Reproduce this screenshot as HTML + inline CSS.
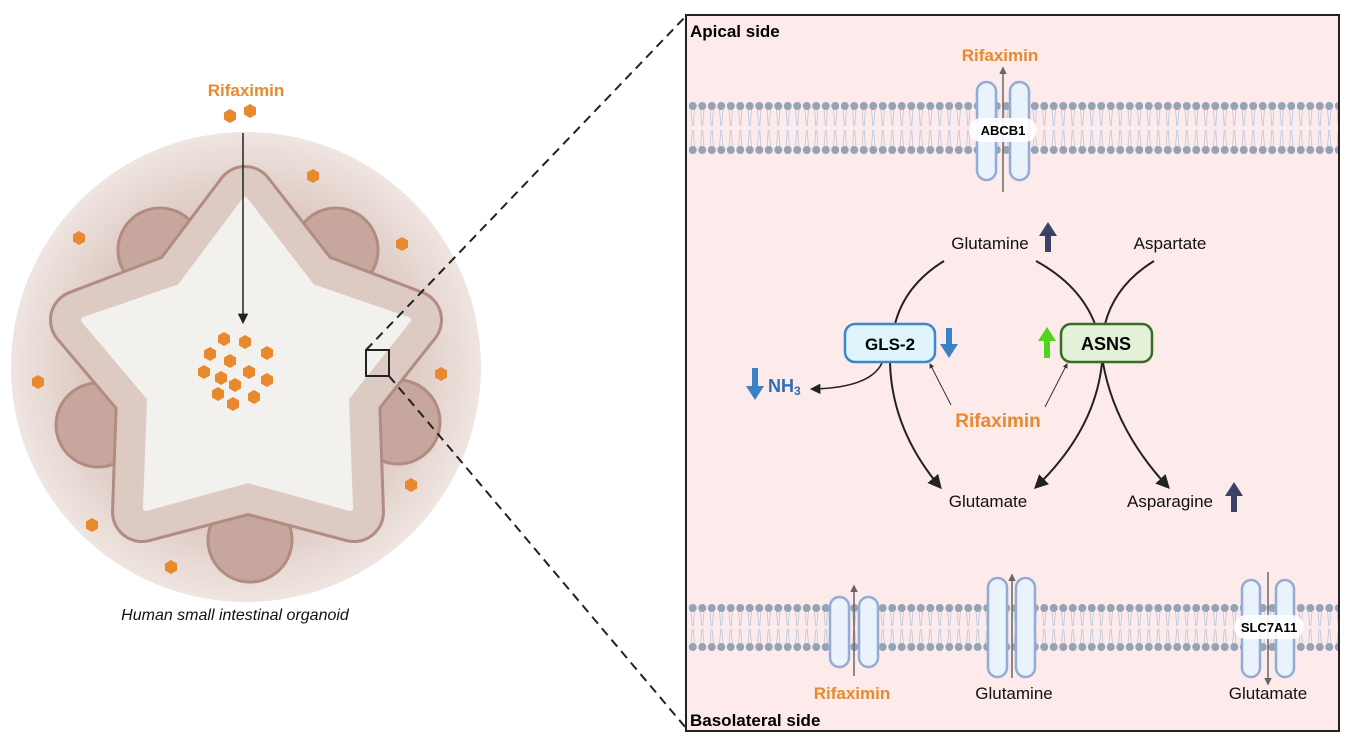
<!DOCTYPE html>
<html><head><meta charset="utf-8"><style>
body{margin:0;background:#fff;}
svg{display:block;font-family:"Liberation Sans",sans-serif;}
</style></head><body>
<svg width="1350" height="744" viewBox="0 0 1350 744" xmlns="http://www.w3.org/2000/svg">
<defs>
<radialGradient id="bg" cx="50%" cy="50%" r="50%">
<stop offset="0.5" stop-color="#d3b9b0"/><stop offset="1" stop-color="#efe5e1"/>
</radialGradient>
<pattern id="memT" x="688" y="100" width="9.5" height="56" patternUnits="userSpaceOnUse">
<path d="M3 9 L4.3 26 M6.5 9 L5.2 26 M3 47 L4.3 30 M6.5 47 L5.2 30" stroke="#b8c6df" stroke-width="0.8" fill="none"/>
<circle cx="4.75" cy="6" r="4" fill="#95a3b5"/>
<circle cx="4.75" cy="50" r="4" fill="#95a3b5"/>
</pattern>
<pattern id="memB" x="688" y="602" width="9.5" height="51" patternUnits="userSpaceOnUse">
<path d="M3 9 L4.3 24 M6.5 9 L5.2 24 M3 42 L4.3 27 M6.5 42 L5.2 27" stroke="#b8c6df" stroke-width="0.8" fill="none"/>
<circle cx="4.75" cy="6" r="4" fill="#95a3b5"/>
<circle cx="4.75" cy="45" r="4" fill="#95a3b5"/>
</pattern>
<marker id="ah" viewBox="0 0 10 10" refX="8" refY="5" markerWidth="7" markerHeight="7" orient="auto-start-reverse"><path d="M0 0 L10 5 L0 10 z" fill="#222"/></marker>
<marker id="ahs" viewBox="0 0 10 10" refX="8" refY="5" markerWidth="5" markerHeight="5" orient="auto"><path d="M0 0 L10 5 L0 10 z" fill="#333"/></marker>
<marker id="ahg" viewBox="0 0 10 10" refX="8" refY="5" markerWidth="5" markerHeight="5" orient="auto"><path d="M0 0 L10 5 L0 10 z" fill="#666"/></marker>
</defs>

<!-- organoid -->
<circle cx="246" cy="367" r="235" fill="url(#bg)"/>
<g fill="#c7a69d" stroke="#b28c82" stroke-width="3">
<circle cx="160" cy="250" r="42"/><circle cx="336" cy="250" r="42"/>
<circle cx="98" cy="425" r="42"/><circle cx="398" cy="422" r="42"/>
<circle cx="250" cy="540" r="42"/>
</g>
<polygon points="245,196 312,282 412,320 350,398 354,512 248,484 142,512 146,398 80,320 180,282" fill="#dccac3" stroke="#b28c82" stroke-width="62" stroke-linejoin="round"/>
<polygon points="245,196 312,282 412,320 350,398 354,512 248,484 142,512 146,398 80,320 180,282" fill="#dccac3" stroke="#dccac3" stroke-width="56" stroke-linejoin="round"/>
<polygon points="245,200 312,287 408,320 346,398 350,508 248,480 146,508 150,398 84,320 180,287" fill="#f3f1ee" stroke="#f3f1ee" stroke-width="6" stroke-linejoin="round"/>
<line x1="243" y1="133" x2="243" y2="322" stroke="#222" stroke-width="1.5" marker-end="url(#ah)"/>
<text x="246" y="96" text-anchor="middle" font-size="17" font-weight="bold" fill="#e8892e">Rifaximin</text>
<g fill="#e8892e">
<polygon transform="translate(230,116)" points="6,-3.5 6,3.5 0,7 -6,3.5 -6,-3.5 0,-7"/>
<polygon transform="translate(250,111)" points="6,-3.5 6,3.5 0,7 -6,3.5 -6,-3.5 0,-7"/>
<polygon transform="translate(313,176)" points="6,-3.5 6,3.5 0,7 -6,3.5 -6,-3.5 0,-7"/>
<polygon transform="translate(79,238)" points="6,-3.5 6,3.5 0,7 -6,3.5 -6,-3.5 0,-7"/>
<polygon transform="translate(402,244)" points="6,-3.5 6,3.5 0,7 -6,3.5 -6,-3.5 0,-7"/>
<polygon transform="translate(38,382)" points="6,-3.5 6,3.5 0,7 -6,3.5 -6,-3.5 0,-7"/>
<polygon transform="translate(441,374)" points="6,-3.5 6,3.5 0,7 -6,3.5 -6,-3.5 0,-7"/>
<polygon transform="translate(411,485)" points="6,-3.5 6,3.5 0,7 -6,3.5 -6,-3.5 0,-7"/>
<polygon transform="translate(92,525)" points="6,-3.5 6,3.5 0,7 -6,3.5 -6,-3.5 0,-7"/>
<polygon transform="translate(171,567)" points="6,-3.5 6,3.5 0,7 -6,3.5 -6,-3.5 0,-7"/>
<polygon transform="translate(224,339)" points="6,-3.5 6,3.5 0,7 -6,3.5 -6,-3.5 0,-7"/>
<polygon transform="translate(245,342)" points="6,-3.5 6,3.5 0,7 -6,3.5 -6,-3.5 0,-7"/>
<polygon transform="translate(210,354)" points="6,-3.5 6,3.5 0,7 -6,3.5 -6,-3.5 0,-7"/>
<polygon transform="translate(267,353)" points="6,-3.5 6,3.5 0,7 -6,3.5 -6,-3.5 0,-7"/>
<polygon transform="translate(230,361)" points="6,-3.5 6,3.5 0,7 -6,3.5 -6,-3.5 0,-7"/>
<polygon transform="translate(204,372)" points="6,-3.5 6,3.5 0,7 -6,3.5 -6,-3.5 0,-7"/>
<polygon transform="translate(221,378)" points="6,-3.5 6,3.5 0,7 -6,3.5 -6,-3.5 0,-7"/>
<polygon transform="translate(249,372)" points="6,-3.5 6,3.5 0,7 -6,3.5 -6,-3.5 0,-7"/>
<polygon transform="translate(267,380)" points="6,-3.5 6,3.5 0,7 -6,3.5 -6,-3.5 0,-7"/>
<polygon transform="translate(235,385)" points="6,-3.5 6,3.5 0,7 -6,3.5 -6,-3.5 0,-7"/>
<polygon transform="translate(218,394)" points="6,-3.5 6,3.5 0,7 -6,3.5 -6,-3.5 0,-7"/>
<polygon transform="translate(254,397)" points="6,-3.5 6,3.5 0,7 -6,3.5 -6,-3.5 0,-7"/>
<polygon transform="translate(233,404)" points="6,-3.5 6,3.5 0,7 -6,3.5 -6,-3.5 0,-7"/>
</g>
<rect x="366" y="350" width="23" height="26" fill="none" stroke="#222" stroke-width="2"/>
<line x1="366" y1="350" x2="686" y2="16" stroke="#222" stroke-width="2" stroke-dasharray="9,6"/>
<line x1="389" y1="376" x2="686" y2="728" stroke="#222" stroke-width="2" stroke-dasharray="9,6"/>
<text x="235" y="620" text-anchor="middle" font-size="16" font-style="italic" fill="#111">Human small intestinal organoid</text>

<!-- panel -->
<rect x="686" y="15" width="653" height="716" fill="#fcebea" stroke="#222" stroke-width="2"/>
<text x="690" y="37" font-size="17" font-weight="bold" fill="#000">Apical side</text>
<text x="690" y="726" font-size="17" font-weight="bold" fill="#000">Basolateral side</text>
<rect x="688" y="100" width="650" height="56" fill="url(#memT)"/>
<rect x="688" y="602" width="650" height="51" fill="url(#memB)"/>

<!-- ABCB1 -->
<g fill="#eaf2fb" stroke="#93acd6" stroke-width="2.5">
<rect x="977" y="82" width="19" height="98" rx="9.5"/><rect x="1010" y="82" width="19" height="98" rx="9.5"/>
</g>
<line x1="1003" y1="192" x2="1003" y2="68" stroke="#666" stroke-width="1.5" marker-end="url(#ahg)"/>
<rect x="969" y="118" width="68" height="24" rx="12" fill="#fff" opacity="0.9"/>
<text x="1003" y="135" text-anchor="middle" font-size="13" font-weight="bold" fill="#000">ABCB1</text>
<text x="1000" y="61" text-anchor="middle" font-size="17" font-weight="bold" fill="#e8892e">Rifaximin</text>

<!-- bottom channels -->
<g fill="#eaf2fb" stroke="#93acd6" stroke-width="2.5">
<rect x="830" y="597" width="19" height="70" rx="9.5"/><rect x="859" y="597" width="19" height="70" rx="9.5"/>
<rect x="988" y="578" width="19" height="99" rx="9.5"/><rect x="1016" y="578" width="19" height="99" rx="9.5"/>
<rect x="1242" y="580" width="18" height="97" rx="9"/><rect x="1276" y="580" width="18" height="97" rx="9"/>
</g>
<line x1="854" y1="676" x2="854" y2="586" stroke="#666" stroke-width="1.5" marker-end="url(#ahg)"/>
<line x1="1012" y1="678" x2="1012" y2="575" stroke="#666" stroke-width="1.5" marker-end="url(#ahg)"/>
<line x1="1268" y1="572" x2="1268" y2="684" stroke="#666" stroke-width="1.5" marker-end="url(#ahg)"/>
<rect x="1234" y="615" width="70" height="24" rx="12" fill="#fff" opacity="0.9"/>
<text x="1269" y="632" text-anchor="middle" font-size="13" font-weight="bold" fill="#000">SLC7A11</text>
<text x="852" y="699" text-anchor="middle" font-size="17" font-weight="bold" fill="#e8892e">Rifaximin</text>
<text x="1014" y="699" text-anchor="middle" font-size="17" fill="#111">Glutamine</text>
<text x="1268" y="699" text-anchor="middle" font-size="17" fill="#111">Glutamate</text>

<!-- pathway -->
<text x="990" y="249" text-anchor="middle" font-size="17" fill="#111">Glutamine</text>
<text x="1170" y="249" text-anchor="middle" font-size="17" fill="#111">Aspartate</text>
<text x="988" y="507" text-anchor="middle" font-size="17" fill="#111">Glutamate</text>
<text x="1170" y="507" text-anchor="middle" font-size="17" fill="#111">Asparagine</text>
<g fill="#3b4266">
<path d="M1048 222 L1057 236 L1051 236 L1051 252 L1045 252 L1045 236 L1039 236 z"/>
<path d="M1234 482 L1243 496 L1237 496 L1237 512 L1231 512 L1231 496 L1225 496 z"/>
</g>
<path d="M949 358 L958 344 L952 344 L952 328 L946 328 L946 344 L940 344 z" fill="#3a82c8"/>
<path d="M755 400 L764 386 L758 386 L758 368 L752 368 L752 386 L746 386 z" fill="#3a82c8"/>
<path d="M1047 327 L1056 341 L1050 341 L1050 358 L1044 358 L1044 341 L1038 341 z" fill="#4fd61c"/>
<text x="768" y="392" font-size="18" font-weight="bold" fill="#2e6fb4">NH<tspan font-size="12" dy="3">3</tspan></text>

<g fill="none" stroke="#222" stroke-width="2">
<path d="M944 261 Q905 285 895 324"/>
<path d="M1036 261 Q1080 285 1095 324"/>
<path d="M1154 261 Q1115 285 1105 324"/>
<path d="M890 363 Q892 430 940 487" marker-end="url(#ah)"/>
<path d="M1102 363 Q1095 430 1036 487" marker-end="url(#ah)"/>
<path d="M1103 363 Q1115 430 1168 487" marker-end="url(#ah)"/>
<path d="M882 363 Q870 388 812 389" stroke-width="1.5" marker-end="url(#ah)"/>
</g>
<g stroke="#333" stroke-width="1" fill="none">
<line x1="951" y1="405" x2="930" y2="364" marker-end="url(#ahs)"/>
<line x1="1045" y1="407" x2="1067" y2="364" marker-end="url(#ahs)"/>
</g>
<rect x="845" y="324" width="90" height="38" rx="10" fill="#dff5fb" stroke="#3a88c8" stroke-width="2.5"/>
<text x="890" y="350" text-anchor="middle" font-size="17" font-weight="bold" fill="#000">GLS-2</text>
<rect x="1061" y="324" width="91" height="38" rx="10" fill="#e2f1d8" stroke="#3b6b2a" stroke-width="2.5"/>
<text x="1106" y="350" text-anchor="middle" font-size="18" font-weight="bold" fill="#000">ASNS</text>
<text x="998" y="427" text-anchor="middle" font-size="19" font-weight="bold" fill="#e8892e">Rifaximin</text>
</svg>
</body></html>
